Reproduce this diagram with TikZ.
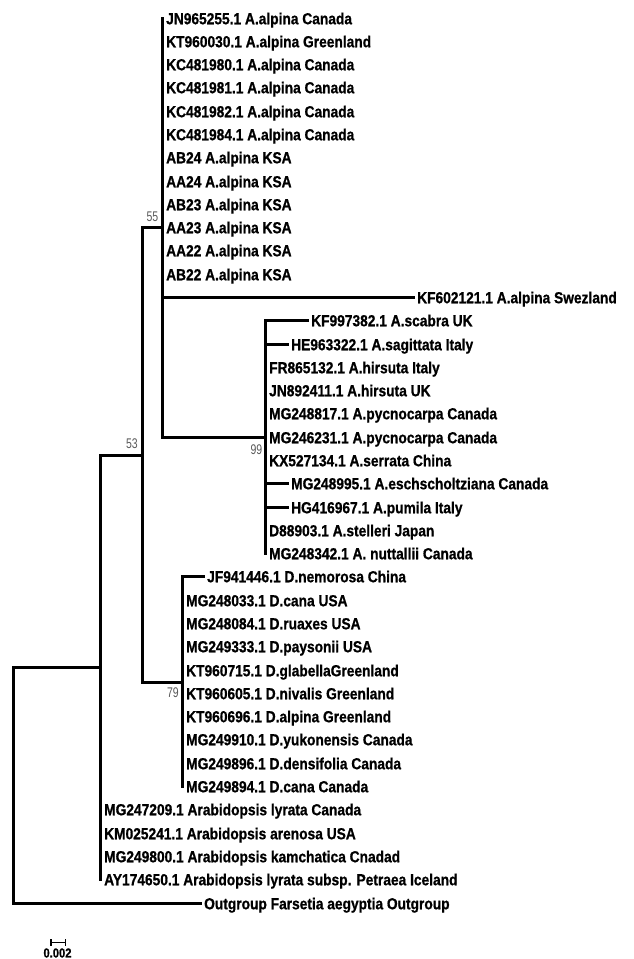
\documentclass[tikz,border=0pt]{standalone}
\usepackage{fontspec}
\usetikzlibrary{arrows.meta}
\newfontfamily\leaffont{Liberation Sans}[FakeStretch=0.86, FakeBold=0.8]
\newfontfamily\bootfont{Liberation Sans}[FakeStretch=0.75]

\begin{document}
\begin{tikzpicture}[x=1pt, y=-1pt,
    branch/.style={line width=3pt, line cap=rect},
    leaf/.style={anchor=west, font=\leaffont\bfseries\fontsize{16}{16}\selectfont,
        inner xsep=3.5pt, inner ysep=0pt, text height=11.5pt, text depth=0pt},
    boot/.style={anchor=east, font=\bootfont\fontsize{14}{14}\selectfont,
        text=black!65, inner sep=0pt}]
    \useasboundingbox (0,0) rectangle (633,959);

    \coordinate (root) at (13.5,785.5);
    \coordinate (nara) at (100.5,667.5);
    \coordinate (n53) at (142.5,455.5);
    \coordinate (n55) at (162.5,227.5);
    \coordinate (n99) at (265.5,437.5);
    \coordinate (n79) at (182.5,682.5);

    \draw[branch] (root) |- (nara);
    \draw[branch] (nara) |- (n53);
    \draw[branch] (n53) |- (n55);
    \draw[branch] (n53) |- (n79);
    \draw[branch] (n55) |- (n99);

    \foreach \lab/\len [count=\i from 0] in {
        JN965255.1 A.alpina Canada/0, KT960030.1 A.alpina Greenland/0,
        KC481980.1 A.alpina Canada/0, KC481981.1 A.alpina Canada/0,
        KC481982.1 A.alpina Canada/0, KC481984.1 A.alpina Canada/0,
        AB24 A.alpina KSA/0, AA24 A.alpina KSA/0, AB23 A.alpina KSA/0,
        AA23 A.alpina KSA/0, AA22 A.alpina KSA/0, AB22 A.alpina KSA/0,
        KF602121.1 A.alpina Swezland/251} {
        \node[leaf] (alp\i) at ({162.5+\len},{round(17.5+23.29*\i)+0.5}) {\lab};
        \draw[branch] (n55) |- (alp\i.west);
    }

    \foreach \lab/\len [count=\i from 13] in {
        KF997382.1 A.scabra UK/42, HE963322.1 A.sagittata Italy/22,
        FR865132.1 A.hirsuta Italy/0, JN892411.1 A.hirsuta UK/0,
        MG248817.1 A.pycnocarpa Canada/0, MG246231.1 A.pycnocarpa Canada/0,
        KX527134.1 A.serrata China/0, MG248995.1 A.eschscholtziana Canada/22,
        HG416967.1 A.pumila Italy/22, D88903.1 A.stelleri Japan/0,
        MG248342.1 A. nuttallii Canada/0} {
        \node[leaf] (ara\i) at ({265.5+\len},{round(17.5+23.29*\i)+0.5}) {\lab};
        \draw[branch] (n99) |- (ara\i.west);
    }

    \foreach \lab/\len [count=\i from 24] in {
        JF941446.1 D.nemorosa China/21, MG248033.1 D.cana USA/0,
        MG248084.1 D.ruaxes USA/0, MG249333.1 D.paysonii USA/0,
        KT960715.1 D.glabellaGreenland/0, KT960605.1 D.nivalis Greenland/0,
        KT960696.1 D.alpina Greenland/0, MG249910.1 D.yukonensis Canada/0,
        MG249896.1 D.densifolia Canada/0, MG249894.1 D.cana Canada/0} {
        \node[leaf] (dra\i) at ({182.5+\len},{round(17.5+23.29*\i)+0.5}) {\lab};
        \draw[branch] (n79) |- (dra\i.west);
    }

    \foreach \lab [count=\i from 34] in {
        MG247209.1 Arabidopsis lyrata Canada, KM025241.1 Arabidopsis arenosa USA,
        MG249800.1 Arabidopsis kamchatica Cnadad,
        AY174650.1 Arabidopsis lyrata subsp. Petraea Iceland} {
        \node[leaf] (abd\i) at (100.5,{round(17.5+23.29*\i)+0.5}) {\lab};
        \draw[branch] (nara) |- (abd\i.west);
    }

    \node[leaf] (out) at (200.5,903.5) {Outgroup Farsetia aegyptia Outgroup};
    \draw[branch] (root) |- (out.west);

    \node[boot] (b55) at (158.5,217) {55};
    \node[boot] (b53) at (138,444) {53};
    \node[boot] (b99) at (262.5,450) {99};
    \node[boot] (b79) at (179,693) {79};

    \coordinate (sb1) at (50,942.5);
    \coordinate (sb2) at (66,942.5);
    \draw[line width=1.5pt, {Bar[width=7pt]}-{Bar[width=7pt]}] (sb1) -- (sb2);
    \node[font=\leaffont\bfseries\fontsize{13}{13}\selectfont, inner sep=0pt] (sbl) at (57.5,953) {0.002};
\end{tikzpicture}
\end{document}
